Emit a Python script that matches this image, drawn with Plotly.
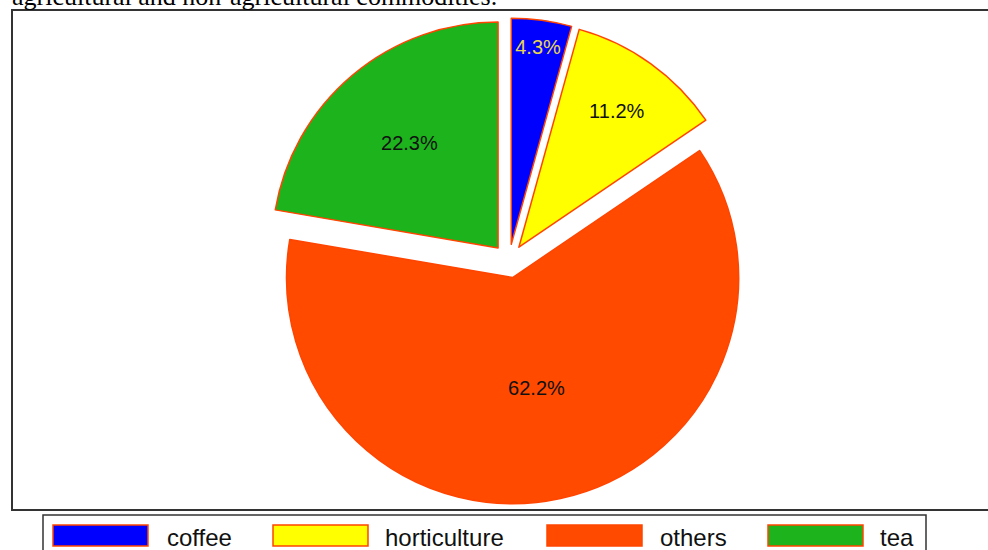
import plotly.graph_objects as go

# ---- data ----
categories = ["coffee", "horticulture", "others", "tea"]
shares = [4.3, 11.2, 62.2, 22.3]

# ---- styles ----
fill_colors = ["#0000ff", "#ffff00", "#ff4a00", "#1db31d"]
edge_color = "#ff4500"
label_colors = ["#e8d64c", "#111111", "#111111", "#111111"]
W, H = 988, 550

fig = go.Figure()
fig.add_trace(go.Pie(
    labels=categories,
    values=shares,
    sort=False,
    direction="clockwise",
    rotation=0,
    pull=[0.075] * len(categories),
    marker=dict(colors=fill_colors, line=dict(color=edge_color, width=1.5)),
    texttemplate="%{percent:.1%}",
    textposition="inside",
    insidetextorientation="horizontal",
    insidetextfont=dict(family="Liberation Sans, Arial", size=20, color=label_colors),
    domain=dict(x=[0.26923, 0.76113], y=[0.08364, 0.96727]),
    showlegend=False,
    hoverinfo="label+percent",
))

def px(x):
    return x / W

def py(y):
    return 1 - y / H

shapes = []
annotations = []

# plot frame
shapes.append(dict(type="rect", xref="paper", yref="paper",
                   x0=px(12), x1=px(992), y0=py(510), y1=py(10),
                   line=dict(color="#333333", width=2), fillcolor="rgba(0,0,0,0)"))
# legend frame
shapes.append(dict(type="rect", xref="paper", yref="paper",
                   x0=px(43), x1=px(926), y0=py(556), y1=py(515),
                   line=dict(color="#333333", width=1.5), fillcolor="rgba(0,0,0,0)"))

swatch_x = [53, 273, 547, 768]
text_x = [165, 383, 658, 878]
for i, cat in enumerate(categories):
    shapes.append(dict(type="rect", xref="paper", yref="paper",
                       x0=px(swatch_x[i]), x1=px(swatch_x[i] + 95),
                       y0=py(546), y1=py(525),
                       line=dict(color=edge_color, width=1.5),
                       fillcolor=fill_colors[i]))
    annotations.append(dict(text=cat, xref="paper", yref="paper",
                            x=px(text_x[i]), y=py(537),
                            xanchor="left", yanchor="middle", showarrow=False,
                            font=dict(family="Liberation Sans, Arial", size=24, color="#111111")))

# cut-off caption at the top
annotations.append(dict(text="agricultural and non-agricultural commodities.",
                        xref="paper", yref="paper", x=px(10), y=py(13),
                        xanchor="left", yanchor="bottom", showarrow=False,
                        font=dict(family="Liberation Serif, Times New Roman", size=26, color="#000000")))

fig.update_layout(
    width=W, height=H,
    margin=dict(l=0, r=0, t=0, b=0),
    paper_bgcolor="white",
    plot_bgcolor="white",
    shapes=shapes,
    annotations=annotations,
)

fig.write_html("out.html")
